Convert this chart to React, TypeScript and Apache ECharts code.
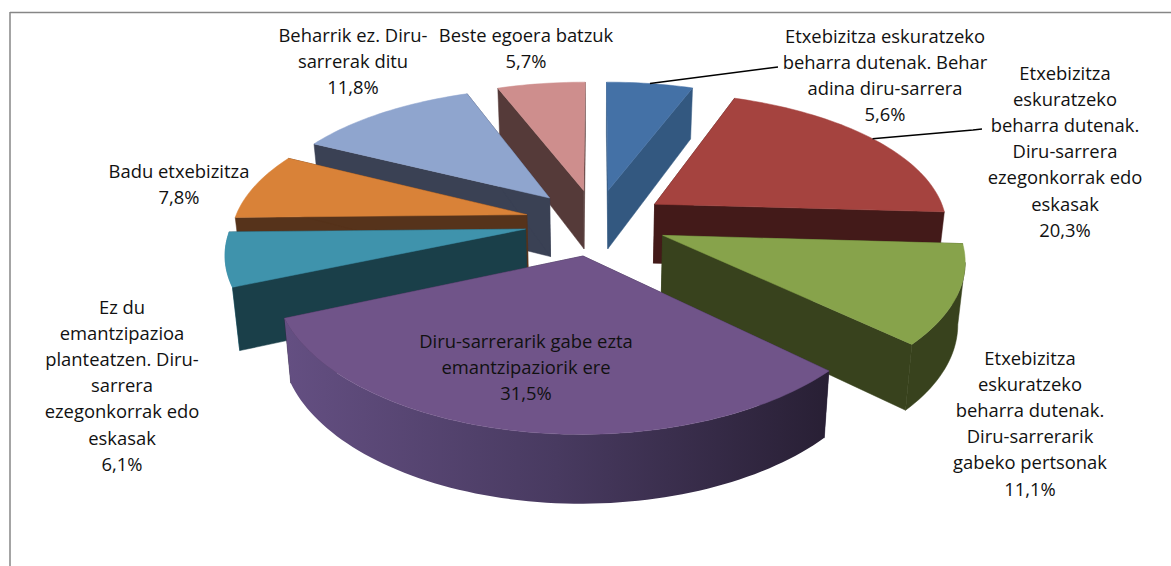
import React, { useEffect, useRef } from "react";
import * as echarts from "echarts";

const categories = [
  "Etxebizitza eskuratzeko\nbeharra dutenak. Behar\nadina diru-sarrera",
  "Etxebizitza\neskuratzeko\nbeharra dutenak.\nDiru-sarrera\nezegonkorrak edo\neskasak",
  "Etxebizitza\neskuratzeko\nbeharra dutenak.\nDiru-sarrerarik\ngabeko pertsonak",
  "Diru-sarrerarik gabe ezta\nemantzipaziorik ere",
  "Ez du\nemantzipazioa\nplanteatzen. Diru-\nsarrera\nezegonkorrak edo\neskasak",
  "Badu etxebizitza",
  "Beharrik ez. Diru-\nsarrerak ditu",
  "Beste egoera batzuk",
];
const values = [5.6, 20.3, 11.1, 31.5, 6.1, 7.8, 11.8, 5.7];
const topColors = ["#4471A6", "#A5433F", "#87A34B", "#705489", "#3F93AC", "#D98238", "#8FA5CE", "#CE8E8D"];
const wallColors = ["#335880", "#431A19", "#38421D", "#2E2440", "#1A3F49", "#56331B", "#3A4154", "#553A39"];
const arcColors = ["#335880", "#431A19", "#38421D", "", "#3A8AA2", "#56331B", "#3A4154", "#553A39"];
const labelX = [885, 1065, 1030, 526, 122, 179, 353, 526];
const labelY = [22, 59, 344, 327, 293, 157, 21, 21];
const leaderEnds: Array<[number, number][] | null> = [
  [[778, 67]],
  [[973, 130], [982, 129]],
  null, null, null, null, null, null,
];

const CX = 596, CY = 222, RX = 293, RY = 136, PERSP = 0.166, PERSP_X = 0.15, EXPLODE = 0.244;
const DEPTH = 60, DEPTH_SLOPE = 7.5, SHRINK = 0.98;
const total = values.reduce((a, b) => a + b, 0);
const rad = (d: number) => (d * Math.PI) / 180;

function project(X: number, Y: number, bottom = false): [number, number] {
  let sx = CX + (RX * X) / (1 + PERSP_X * Y);
  let sy = CY - (RY * Y) / (1 + PERSP * Y);
  if (bottom) {
    sx = CX + (sx - CX) * SHRINK;
    sy += DEPTH - DEPTH_SLOPE * Y;
  }
  return [sx, sy];
}

function renderItem(params: any) {
  const i = params.dataIndex;
  const start = (values.slice(0, i).reduce((a, b) => a + b, 0) / total) * 360;
  const end = start + (values[i] / total) * 360;
  const mid = rad((start + end) / 2);
  const ox = EXPLODE * Math.sin(mid), oy = EXPLODE * Math.cos(mid);
  const at = (deg: number): [number, number] => [ox + Math.sin(rad(deg)), oy + Math.cos(rad(deg))];
  const angles: number[] = [];
  const n = Math.max(2, Math.ceil((end - start) / 1.5));
  for (let k = 0; k <= n; k++) angles.push(start + ((end - start) * k) / n);

  const topArc = angles.map((a) => project(...at(a)));
  const botArc = angles.map((a) => project(...at(a), true));
  const apexTop = project(ox, oy);
  const apexBot = project(ox, oy, true);
  const z = Math.round((1 - Math.cos(mid)) * 100) * 10;
  const fillPoly = (points: number[][], fill: any, z2: number) => ({
    type: "polygon",
    z2,
    shape: { points },
    style: { fill, stroke: typeof fill === "string" ? fill : "none", lineWidth: 0.5 },
    silent: true,
  });
  // the outer wall shows from the arc's widest point towards the viewer
  const onRight = Math.sin(mid) > 0;
  let widest = 0;
  topArc.forEach((p, k) => {
    if (Math.abs(p[0] - CX) > Math.abs(topArc[widest][0] - CX)) widest = k;
  });
  const from = onRight ? widest : 0;
  const to = onRight ? n : widest;
  const wallTop = topArc.slice(from, to + 1);
  const wallBot = botArc.slice(from, to + 1).reverse();
  const children: any[] = [];
  if (arcColors[i] === "") {
    children.push(
      fillPoly(
        [...topArc, ...botArc.slice().reverse()],
        {
          type: "linear", x: 0, y: 0, x2: 1, y2: 0,
          colorStops: [
            { offset: 0, color: "#644F82" },
            { offset: 0.5, color: "#483A60" },
            { offset: 1, color: "#281F34" },
          ],
        },
        z + 2
      )
    );
  } else if (i === 4) {
    // only a sliver of this wall shows beside the cut face
    children.push(fillPoly([...topArc, botArc[0]], arcColors[i], z + 2));
  } else if (wallTop.length > 1) {
    children.push(fillPoly([...wallTop, ...wallBot], arcColors[i], z + 2));
  }
  children.push(
    fillPoly([apexTop, topArc[0], botArc[0], apexBot], wallColors[i], z + (i === 4 ? 3 : 1)),
    fillPoly([apexTop, topArc[n], botArc[n], apexBot], wallColors[i], z + 1),
    fillPoly([apexTop, ...topArc], topColors[i], z + 5)
  );
  const ends = leaderEnds[i];
  if (ends) {
    const anchor = project(ox + Math.sin(mid), oy + Math.cos(mid));
    children.push({
      type: "polyline",
      z2: 5000,
      shape: { points: [anchor, ...ends] },
      style: { stroke: "#000000", lineWidth: 1.5, fill: "none" },
      silent: true,
    });
  }
  const pct = values[i].toFixed(1).replace(".", ",") + "%";
  children.push({
    type: "text",
    z2: 6000,
    x: labelX[i],
    y: labelY[i],
    silent: true,
    style: {
      text: categories[i] + "\n" + pct,
      fill: "#111111",
      fontFamily: "Open Sans",
      fontSize: 18.4,
      lineHeight: 26.2,
      align: "center",
      verticalAlign: "top",
    },
  });
  return { type: "group", children };
}

export default function App() {
  const ref = useRef<HTMLDivElement>(null);
  useEffect(() => {
    const chart = echarts.init(ref.current!, undefined, { renderer: "svg" });
    chart.setOption({
      animation: false,
      backgroundColor: "#ffffff",
      graphic: [
        { type: "line", shape: { x1: 10, y1: 12.5, x2: 1171, y2: 12.5 }, style: { stroke: "#868686", lineWidth: 1.5 } },
        { type: "line", shape: { x1: 10, y1: 12, x2: 10, y2: 566 }, style: { stroke: "#868686", lineWidth: 1.5 } },
      ],
      series: [
        {
          type: "custom",
          coordinateSystem: "none",
          renderItem,
          data: values,
          silent: true,
        },
      ],
    });
    return () => chart.dispose();
  }, []);
  return <div ref={ref} style={{ position: "fixed", left: 0, top: 0, width: 1171, height: 566 }} />;
}
